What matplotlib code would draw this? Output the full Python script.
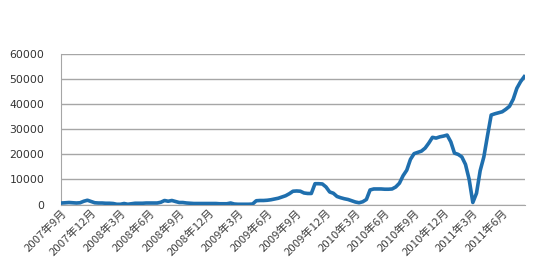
import matplotlib
matplotlib.use("Agg")
import matplotlib.pyplot as plt

plt.rcParams['font.family'] = ['Noto Sans CJK SC', 'DejaVu Sans']

# sampled roughly every 1.5 weeks, Sep 2007 - Jul 2011
values = [
    600, 700, 800, 700, 600, 700, 1300, 1700, 1200, 700,
    600, 600, 500, 500, 400, 100, 100, 400, 100, 300,
    500, 500, 500, 600, 600, 600, 600, 900, 1600, 1300,
    1600, 1200, 800, 800, 600, 500, 400, 400, 400, 400,
    400, 400, 400, 300, 300, 300, 600, 200, 100, 100,
    100, 100, 200, 1500, 1600, 1600, 1700, 1900, 2200, 2500,
    3000, 3500, 4300, 5300, 5400, 5300, 4600, 4400, 4400, 8300,
    8300, 8200, 7000, 5000, 4500, 3200, 2700, 2300, 2000, 1500,
    1000, 700, 1100, 2000, 5800, 6200, 6200, 6200, 6100, 6100,
    6200, 7000, 8500, 11500, 13700, 18000, 20300, 20800, 21300, 22500,
    24500, 26800, 26500, 27000, 27300, 27700, 25000, 20500, 20000, 19000,
    16000, 10000, 800, 4500, 13500, 19000, 27500, 35700, 36200, 36600,
    37000, 38000, 39200, 42000, 46400, 49000, 51000,
]

tick_labels = [
    '2007年9月', '2007年12月', '2008年3月', '2008年6月', '2008年9月',
    '2008年12月', '2009年3月', '2009年6月', '2009年9月', '2009年12月',
    '2010年3月', '2010年6月', '2010年9月', '2010年12月', '2011年3月',
    '2011年6月',
]
tick_pos = [1 + 8 * k for k in range(len(tick_labels))]
y_ticks = [0, 10000, 20000, 30000, 40000, 50000, 60000]

fig = plt.figure(figsize=(5.52, 2.79), dpi=100)
ax = fig.add_axes([0.1105, 0.267, 0.8405, 0.539])

ax.plot(range(len(values)), values, color='#1f6fae', linewidth=2.6,
        solid_joinstyle='round', zorder=3)

ax.set_ylim(0, 60000)
ax.set_xlim(-0.2, len(values) - 0.8)
ax.set_yticks(y_ticks)
ax.set_yticklabels([str(v) for v in y_ticks], family='DejaVu Sans',
                   fontsize=7.8, color='#333333')
ax.yaxis.grid(True, color='#a6a6a6', linewidth=1.0)
ax.set_axisbelow(True)

ax.set_xticks(tick_pos)
ax.set_xticklabels(tick_labels, rotation=45, ha='right', va='center',
                   rotation_mode='anchor', fontsize=8.2, color='#404040')

ax.tick_params(axis='y', length=0, pad=12)
ax.tick_params(axis='x', length=0, pad=5)

for side in ['top', 'right']:
    ax.spines[side].set_visible(False)
ax.spines['left'].set_color('#a6a6a6')
ax.spines['bottom'].set_color('#a6a6a6')

fig.savefig('out.png', dpi=100)
